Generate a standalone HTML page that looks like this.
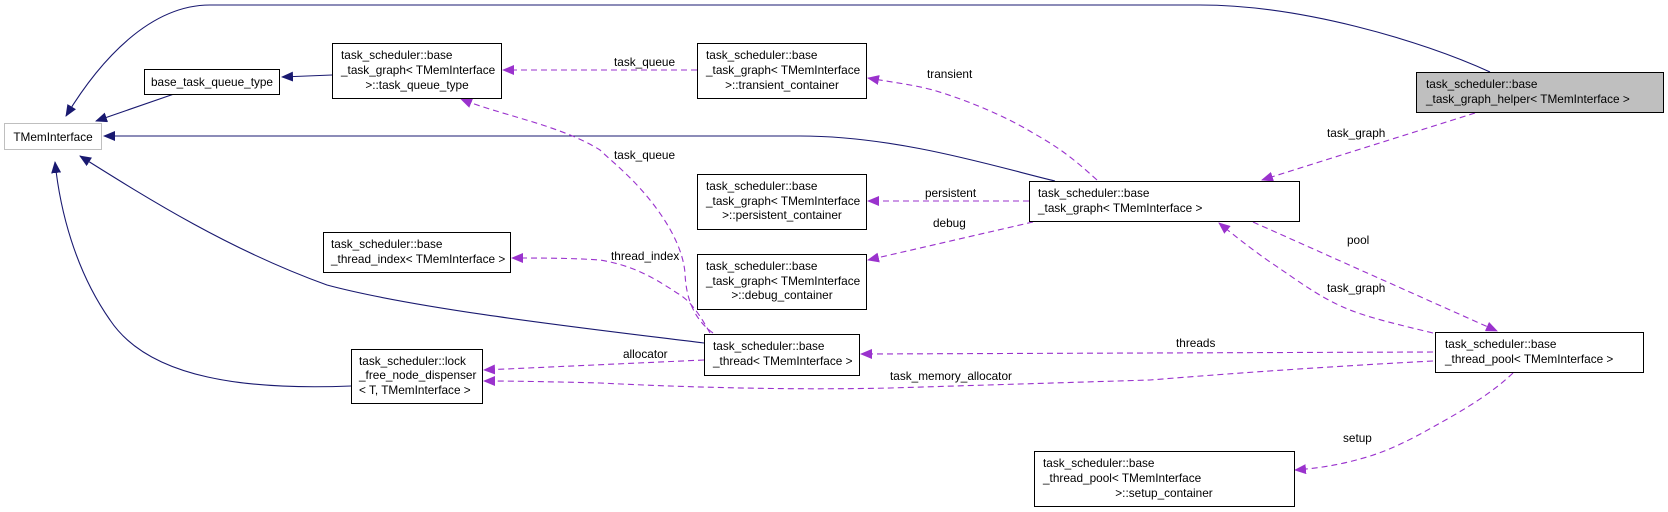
<!DOCTYPE html>
<html><head><meta charset="utf-8"><style>
html,body{margin:0;padding:0;background:#fff;}
svg{display:block;}
text{font-family:"Liberation Sans",sans-serif;font-size:11.8px;fill:#000;}
</style></head><body>
<svg width="1668" height="512" viewBox="0 0 1668 512" xmlns="http://www.w3.org/2000/svg">
<defs>
<marker id="an" markerWidth="12" markerHeight="10" refX="11" refY="5" orient="auto" markerUnits="userSpaceOnUse"><path d="M0,0 L12,5 L0,10 z" fill="#191970"/></marker>
<marker id="ap" markerWidth="12" markerHeight="10" refX="11" refY="5" orient="auto" markerUnits="userSpaceOnUse"><path d="M0,0 L12,5 L0,10 z" fill="#9a32cd"/></marker>
</defs>
<g fill="none" stroke="#191970" stroke-width="1.1" marker-end="url(#an)">
<path d="M1490,72 C1420,40 1300,5 1200,5 L210,5 C150,5 100,60 66,116"/>
<path d="M174,94 L96,121"/>
<path d="M332,75 L282,77"/>
<path d="M1055,181 C1000,168 900,136 800,136 L104,136"/>
<path d="M704,343 C600,330 420,310 327,285 C230,250 150,200 80,156"/>
<path d="M351,386 C250,390 150,380 110,320 C75,270 60,210 55,162"/>
</g>
<g fill="none" stroke="#9a32cd" stroke-width="1.1" stroke-dasharray="6,4" marker-end="url(#ap)">
<path d="M697,70 L503,70"/>
<path d="M713,333 C695,320 686,300 685,273 C683,250 670,225 650,200 C630,175 610,160 600,150 C560,125 500,115 461,99"/>
<path d="M1097,180 C1075,160 1060,148 1033,133 C1000,113 960,98 933,90 C910,84 890,82 868,78"/>
<path d="M1029,201 L868,201"/>
<path d="M1033,222 L868,260"/>
<path d="M710,333 C700,315 690,300 677,293 C650,275 630,265 600,260 C570,258 540,258 512,258"/>
<path d="M704,360 L484,370"/>
<path d="M1475,113 L1262,180"/>
<path d="M1253,222 L1497,331"/>
<path d="M1433,333 C1400,325 1370,318 1350,310 C1320,298 1300,282 1270,262 C1250,248 1235,236 1219,223"/>
<path d="M1433,352 L861,354"/>
<path d="M1433,361 C1300,368 1200,376 1150,380 L890,388 C800,390 700,388 600,383 C560,382 520,381 484,381"/>
<path d="M1513,373 C1490,395 1460,412 1433,427 C1410,440 1390,450 1367,457 C1340,465 1320,468 1295,470"/>
</g>
<g stroke-width="1" fill="#fff">
<rect x="4.5" y="123.5" width="97" height="26" stroke="#bfbfbf"/>
<rect x="144.5" y="69.5" width="135" height="25" stroke="#000"/>
<rect x="332.5" y="43.5" width="169" height="55" stroke="#000"/>
<rect x="323.5" y="232.5" width="187" height="40" stroke="#000"/>
<rect x="351.5" y="349.5" width="131" height="54" stroke="#000"/>
<rect x="697.5" y="43.5" width="169" height="55" stroke="#000"/>
<rect x="697.5" y="174.5" width="169" height="55" stroke="#000"/>
<rect x="697.5" y="254.5" width="169" height="55" stroke="#000"/>
<rect x="704.5" y="334.5" width="155" height="41" stroke="#000"/>
<rect x="1029.5" y="181.5" width="270" height="40" stroke="#000"/>
<rect x="1034.5" y="451.5" width="260" height="55" stroke="#000"/>
<rect x="1416.5" y="72.5" width="247" height="40" stroke="#000" fill="#bfbfbf"/>
<rect x="1435.5" y="332.5" width="208" height="40" stroke="#000"/>
</g>
<text x="53" y="141" text-anchor="middle">TMemInterface</text>
<text x="212" y="86" text-anchor="middle">base_task_queue_type</text>
<text x="341" y="59">task_scheduler::base</text>
<text x="341" y="74">_task_graph&lt; TMemInterface</text>
<text x="417" y="89" text-anchor="middle">&gt;::task_queue_type</text>
<text x="331" y="248">task_scheduler::base</text>
<text x="331" y="263">_thread_index&lt; TMemInterface &gt;</text>
<text x="359" y="365">task_scheduler::lock</text>
<text x="359" y="379">_free_node_dispenser</text>
<text x="359" y="394">&lt; T, TMemInterface &gt;</text>
<text x="706" y="59">task_scheduler::base</text>
<text x="706" y="74">_task_graph&lt; TMemInterface</text>
<text x="782" y="89" text-anchor="middle">&gt;::transient_container</text>
<text x="706" y="190">task_scheduler::base</text>
<text x="706" y="205">_task_graph&lt; TMemInterface</text>
<text x="782" y="219" text-anchor="middle">&gt;::persistent_container</text>
<text x="706" y="270">task_scheduler::base</text>
<text x="706" y="285">_task_graph&lt; TMemInterface</text>
<text x="782" y="299" text-anchor="middle">&gt;::debug_container</text>
<text x="713" y="350">task_scheduler::base</text>
<text x="713" y="365">_thread&lt; TMemInterface &gt;</text>
<text x="1038" y="197">task_scheduler::base</text>
<text x="1038" y="212">_task_graph&lt; TMemInterface &gt;</text>
<text x="1043" y="467">task_scheduler::base</text>
<text x="1043" y="482">_thread_pool&lt; TMemInterface</text>
<text x="1164" y="497" text-anchor="middle">&gt;::setup_container</text>
<text x="1426" y="88">task_scheduler::base</text>
<text x="1426" y="103">_task_graph_helper&lt; TMemInterface &gt;</text>
<text x="1445" y="348">task_scheduler::base</text>
<text x="1445" y="363">_thread_pool&lt; TMemInterface &gt;</text>
<text x="614" y="66">task_queue</text>
<text x="927" y="78">transient</text>
<text x="614" y="159">task_queue</text>
<text x="925" y="197">persistent</text>
<text x="933" y="227">debug</text>
<text x="611" y="260">thread_index</text>
<text x="623" y="358">allocator</text>
<text x="890" y="380">task_memory_allocator</text>
<text x="1176" y="347">threads</text>
<text x="1327" y="137">task_graph</text>
<text x="1347" y="244">pool</text>
<text x="1327" y="292">task_graph</text>
<text x="1343" y="442">setup</text>
</svg>
</body></html>
